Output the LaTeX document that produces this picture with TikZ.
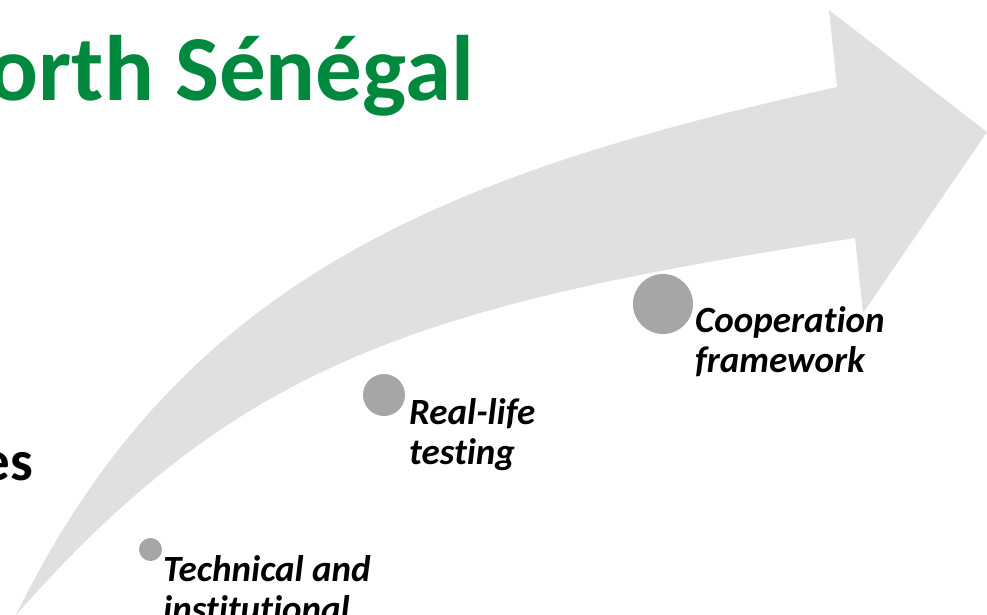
\documentclass[tikz,border=0pt]{standalone}
\usepackage{fontspec}
\setmainfont{Carlito}[Ligatures=NoCommon]
\definecolor{titlegreen}{RGB}{0,137,62}
\definecolor{arrowgray}{RGB}{224,224,224}
\definecolor{dotgray}{RGB}{166,166,166}
\begin{document}
\begin{tikzpicture}[x=1pt,y=-1pt,
  dot/.style={circle, fill=dotgray, inner sep=0pt, minimum size=#1},
  steplabel/.style={anchor=base west, inner sep=0pt, font=\fontsize{37}{40}\selectfont\bfseries\itshape}]
\useasboundingbox (0,0) rectangle (987,614);
\clip (0,0) rectangle (987,614);
% curved arrow
\fill[arrowgray] (16,615) .. controls (180,280) and (440,175) .. (837,87)
  -- (829,10) -- (987,132) -- (863,313) -- (855,238)
  .. controls (420,305) and (240,361) .. (16,615)
  -- cycle;
% title fragments
\node[anchor=base east, inner sep=0pt, text=titlegreen, font=\fontsize{93}{100}\selectfont\bfseries] (title) at (474,100) {orth Sénégal};
\node[anchor=base east, inner sep=0pt, font=\fontsize{57}{60}\selectfont\bfseries] (es) at (33,480) {es};
% dots
\node[dot=60pt] (c3) at (663,304) {};
\node[dot=42pt] (c2) at (384,395) {};
\node[dot=23pt] (c1) at (150.5,549.5) {};
% labels
\node[steplabel] (t3) at (695,332) {\begin{tabular}[t]{@{}l@{}}Cooperation\\framework\end{tabular}};
\node[steplabel] (t2) at (409,424) {\begin{tabular}[t]{@{}l@{}}Real-life\\testing\end{tabular}};
\node[steplabel] (t1) at (163,581) {\begin{tabular}[t]{@{}l@{}}Technical and\\institutional\end{tabular}};
\end{tikzpicture}
\end{document}
